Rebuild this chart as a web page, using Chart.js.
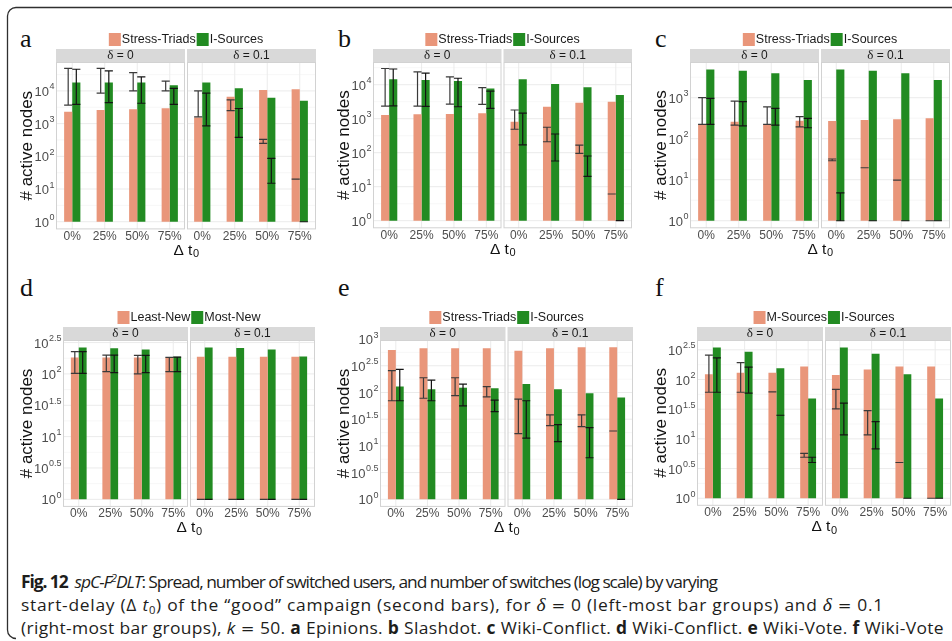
<!DOCTYPE html>
<html>
<head>
<meta charset="utf-8">
<title>spC-F2DLT: spread by start-delay</title>
<script src="https://cdn.jsdelivr.net/npm/chart.js@4.4.1/dist/chart.umd.min.js"></script>
<style>
  html, body { margin: 0; padding: 0; background: #fff; }
  body { position: relative; width: 952px; height: 641px; overflow: hidden; }
  canvas { position: absolute; }
  #frame { position: absolute; left: 0; top: 0; }
  .letter { position: absolute; font-family: 'Liberation Serif', 'Times New Roman', serif; font-size: 26px; line-height: 1; color: #111; }
  .cap { position: absolute; left: 21px; white-space: nowrap; font-family: 'Open Sans', 'Noto Sans', sans-serif;
         font-size: 17px; line-height: 23px; color: #1d1d1b; transform-origin: 0 50%; }
  .cap b { font-weight: 700; }
  .cap .m { font-family: 'Liberation Serif', serif; font-style: italic; font-size: 19px; }
  .cap .eq { display: inline-block; padding: 0 5px; font-family: 'DejaVu Sans', sans-serif; font-size: 16px; }
  .cap sup { font-size: 11px; vertical-align: 6px; line-height: 0; }
  .cap sub { font-size: 11px; vertical-align: -3px; line-height: 0; }
</style>
</head>
<body>
<svg id="frame" width="952" height="641">
  <path d="M952 7.5 H16 A8.5 8.5 0 0 0 7.5 16 V630 A8.5 8.5 0 0 0 16 638.5" fill="none" stroke="#2f2f2f" stroke-width="1.3"/>
</svg>

<div class="letter" style="left:20px;top:26px">a</div>
<div class="letter" style="left:338px;top:26px">b</div>
<div class="letter" style="left:655px;top:26px">c</div>
<div class="letter" style="left:20px;top:275px">d</div>
<div class="letter" style="left:338px;top:275px">e</div>
<div class="letter" style="left:655px;top:275px">f</div>

<div class="cap" style="top:570px"><b>Fig. 12</b>&nbsp; <i>spC-F<sup>2</sup>DLT</i>: Spread, number of switched users, and number of switches (log scale) by varying</div>
<div class="cap" style="top:593px">start-delay (Δ <i>t</i><sub>0</sub>) of the “good” campaign (second bars), for <span class="m">δ</span><span class="eq">=</span>0 (left-most bar groups) and <span class="m">δ</span><span class="eq">=</span>0.1</div>
<div class="cap" style="top:616px">(right-most bar groups), <i>k</i><span class="eq">=</span>50. <b>a</b> Epinions. <b>b</b> Slashdot. <b>c</b> Wiki-Conflict. <b>d</b> Wiki-Conflict. <b>e</b> Wiki-Vote. <b>f</b> Wiki-Vote</div>

<script>
// ---- categories ----
const delayLabels = ['0%', '25%', '50%', '75%', '0%', '25%', '50%', '75%'];
const deltaFacets = ['0', '0.1'];

// ---- a: Epinions (Stress-Triads vs I-Sources) ----
const epiStress   = [2300, 2600, 2750, 2950, 1550, 6600, 10600, 11200];
const epiISrc     = [18000, 18000, 18000, 15000, 18000, 12000, 6200, 5000];
const epiStressLo = [3700, 8500, 10000, 10000, 1600, 2500, 250, 20];
const epiStressHi = [49000, 49000, 36000, 20000, 10000, 5300, 330, 20];
const epiISrcLo   = [3900, 4400, 4200, 3900, 850, 380, 15, 1];
const epiISrcHi   = [46000, 41000, 27000, 12000, 8500, 2900, 87, 1];

// ---- b: Slashdot ----
const slaStress   = [1290, 1350, 1380, 1440, 820, 2250, 2950, 3150];
const slaISrc     = [14500, 13800, 12900, 7800, 14500, 10500, 8400, 5000];
const slaStressLo = [2350, 2350, 2700, 2650, 490, 210, 96, 6.1];
const slaStressHi = [30000, 24000, 17000, 8200, 1800, 560, 168, 6.1];
const slaISrcLo   = [2400, 2300, 2250, 2000, 170, 57, 20, 1];
const slaISrcHi   = [29000, 22000, 15500, 6500, 1450, 355, 80, 1];

// ---- c: Wiki-Conflict ----
const wcStress   = [229, 260, 225, 275, 270, 285, 300, 315];
const wcISrc     = [4900, 4550, 3950, 2700, 4900, 4550, 3950, 2700];
const wcStressLo = [225, 215, 225, 195, 29, 19.6, 9.8, 1];
const wcStressHi = [1000, 830, 600, 345, 32, 19.6, 9.8, 1];
const wcISrcLo   = [225, 205, 215, 185, 1, 1, 1, 1];
const wcISrcHi   = [960, 800, 550, 315, 4.8, 1, 1, 1];

// ---- d: Wiki-Conflict (Least-New vs Most-New) ----
const wcLeast   = [183, 183, 183, 183, 188, 188, 188, 188];
const wcMost    = [265, 256, 246, 188, 265, 260, 246, 190];
const wcLeastLo = [102, 109, 100, 109, 1, 1, 1, 1];
const wcLeastHi = [226, 200, 198, 183, 1, 1, 1, 1];
const wcMostLo  = [102, 105, 105, 109, 1, 1, 1, 1];
const wcMostHi  = [226, 200, 198, 185, 1, 1, 1, 1];

// ---- e: Wiki-Vote ----
const wvStress   = [627, 673, 673, 673, 605, 673, 705, 705];
const wvISrc     = [129, 115, 123, 120, 144, 115, 97, 81];
const wvStressLo = [70, 78, 87, 83, 17, 24, 23, 19];
const wvStressHi = [256, 189, 189, 129, 75, 38, 38, 19];
const wvISrcLo   = [70, 70, 56, 44, 14, 12, 6, 1];
const wvISrcHi   = [272, 171, 144, 72, 70, 25, 22, 1];

// ---- f: Wiki-Vote (M-Sources vs I-Sources) ----
const wvMSrc     = [122, 130, 130, 165, 119, 148, 165, 165];
const wvISrc2    = [345, 294, 155, 48, 345, 270, 122, 48];
const wvMSrcLo   = [61, 61, 62, 4.9, 32, 11.7, 4.0, 1];
const wvMSrcHi   = [258, 192, 62, 5.7, 68, 30, 4.0, 1];
const wvISrc2Lo  = [61, 59, 25, 4.0, 11.7, 6.8, 1, 1];
const wvISrc2Hi  = [232, 161, 25, 4.9, 40, 19.5, 1, 1];

// ---- y tick exponents (powers of ten) ----
const decadeTicks4 = [0, 1, 2, 3, 4];
const decadeTicks3 = [0, 1, 2, 3];
const halfTicks25  = [0, 0.5, 1, 1.5, 2, 2.5];
const halfTicks3   = [0, 0.5, 1, 1.5, 2, 2.5, 3];

// ---- styling ----
const SANS = "'Liberation Sans', Arial, Helvetica, sans-serif";
const SERIF = "'Liberation Serif', 'Times New Roman', serif";
const SALMON = '#E9967A';
const FOREST = '#228B22';
const XAXIS_H = 16;
const STRIP_H = 13;

function fmtExp(e) { return String(e); }

function drawPowerLabel(ctx, exp, xRight, y) {
  const base = '10', sup = fmtExp(exp);
  ctx.font = `13px ${SANS}`;
  const wb = ctx.measureText(base).width;
  ctx.font = `9px ${SANS}`;
  const ws = ctx.measureText(sup).width;
  const x0 = xRight - ws - wb - 0.5;
  ctx.fillStyle = '#4d4d4d';
  ctx.textAlign = 'left';
  ctx.textBaseline = 'middle';
  ctx.font = `13px ${SANS}`;
  ctx.fillText(base, x0, y + 1.5);
  ctx.font = `9px ${SANS}`;
  ctx.fillText(sup, x0 + wb + 0.5, y - 4);
  return wb + ws + 0.5;
}

function facetPlugin(p) {
  return {
    id: 'facetDecor',
    beforeDatasetsDraw(chart) {
      const { ctx, chartArea: ca, scales: { x, y } } = chart;
      const mid = (x.getPixelForValue(3) + x.getPixelForValue(4)) / 2;
      const facets = [[ca.left, mid - 1, 0], [mid + 1, ca.right, 4]];
      const lo = Math.log10(y.min), hi = Math.log10(y.max);
      ctx.save();
      for (const [x0, x1, first] of facets) {
        ctx.save();
        ctx.beginPath();
        ctx.rect(x0, ca.top, x1 - x0, ca.bottom - ca.top);
        ctx.clip();
        // minor horizontal grid
        ctx.strokeStyle = '#f4f4f4';
        ctx.lineWidth = 0.7;
        for (let k = Math.floor(lo / p.step) * p.step; k <= hi; k += p.step) {
          const py = y.getPixelForValue(Math.pow(10, k + p.step / 2));
          ctx.beginPath(); ctx.moveTo(x0, py); ctx.lineTo(x1, py); ctx.stroke();
        }
        // major horizontal grid
        ctx.strokeStyle = '#ebebeb';
        ctx.lineWidth = 1;
        for (const e of p.ticks) {
          const py = y.getPixelForValue(Math.pow(10, e));
          ctx.beginPath(); ctx.moveTo(x0, py); ctx.lineTo(x1, py); ctx.stroke();
        }
        // vertical grid at categories
        for (let i = first; i < first + 4; i++) {
          const px = x.getPixelForValue(i);
          ctx.beginPath(); ctx.moveTo(px, ca.top); ctx.lineTo(px, ca.bottom); ctx.stroke();
        }
        ctx.restore();
        // facet border
        ctx.strokeStyle = '#d2d2d2';
        ctx.lineWidth = 1;
        ctx.strokeRect(x0 + 0.5, ca.top + 0.5, x1 - x0 - 1, ca.bottom - ca.top - 1);
        // strip
        ctx.fillStyle = '#d9d9d9';
        ctx.fillRect(x0, ca.top - STRIP_H, x1 - x0, STRIP_H);
        const name = deltaFacets[first / 4];
        ctx.font = `13px ${SERIF}`;
        const wd = ctx.measureText('δ').width;
        ctx.font = `12px ${SANS}`;
        const rest = ' = ' + name;
        const wr = ctx.measureText(rest).width;
        const sx = (x0 + x1) / 2 - (wd + wr) / 2;
        const sy = ca.top - STRIP_H / 2 + 0.5;
        ctx.fillStyle = '#1a1a1a';
        ctx.textAlign = 'left';
        ctx.textBaseline = 'middle';
        ctx.font = `13px ${SERIF}`;
        ctx.fillText('δ', sx, sy);
        ctx.font = `12px ${SANS}`;
        ctx.fillText(rest, sx + wd, sy);
      }
      ctx.restore();
    },
    afterDatasetsDraw(chart) {
      const { ctx, scales: { y } } = chart;
      ctx.save();
      chart.data.datasets.forEach((ds, di) => {
        const meta = chart.getDatasetMeta(di);
        meta.data.forEach((bar, i) => {
          const yl = y.getPixelForValue(ds.errLo[i]);
          const yh = y.getPixelForValue(ds.errHi[i]);
          const half = bar.width / 2;
          ctx.strokeStyle = ds.errColor;
          ctx.lineWidth = 1.2;
          ctx.beginPath();
          ctx.moveTo(bar.x, yl); ctx.lineTo(bar.x, yh);
          ctx.moveTo(bar.x - half, yh); ctx.lineTo(bar.x + half, yh);
          ctx.moveTo(bar.x - half, yl); ctx.lineTo(bar.x + half, yl);
          ctx.stroke();
        });
      });
      ctx.restore();
    },
    afterDraw(chart) {
      const { ctx, chartArea: ca, scales: { y } } = chart;
      ctx.save();
      // y tick labels as powers of ten
      let maxW = 0;
      for (const e of p.ticks) {
        const w = drawPowerLabel(ctx, e, ca.left - 1.5, y.getPixelForValue(Math.pow(10, e)));
        maxW = Math.max(maxW, w);
      }
      // y axis title
      ctx.save();
      ctx.translate(ca.left - 1.5 - maxW - 7, (ca.top + ca.bottom) / 2);
      ctx.rotate(-Math.PI / 2);
      ctx.font = `17px ${SANS}`;
      ctx.fillStyle = '#111';
      ctx.textAlign = 'center';
      ctx.textBaseline = 'middle';
      ctx.fillText('# active nodes', 0, 0);
      ctx.restore();
      // x axis title: Δ t0
      const cx = (ca.left + ca.right) / 2, ty = ca.bottom + 21;
      ctx.font = `15.5px ${SANS}`;
      const wMain = ctx.measureText('Δ t').width;
      ctx.font = `11px ${SANS}`;
      const wSub = ctx.measureText('0').width;
      const tx = cx - (wMain + wSub) / 2;
      ctx.fillStyle = '#111';
      ctx.textAlign = 'left';
      ctx.textBaseline = 'middle';
      ctx.font = `15.5px ${SANS}`;
      ctx.fillText('Δ t', tx, ty);
      ctx.font = `11px ${SANS}`;
      ctx.fillText('0', tx + wMain + 0.5, ty + 4);
      // legend above strips
      ctx.font = `12.5px ${SANS}`;
      const names = chart.data.datasets.map(d => d.label);
      const colors = chart.data.datasets.map(d => d.backgroundColor);
      const sq = 12, gap = 1;
      const widths = names.map(n => ctx.measureText(n).width);
      const total = widths.reduce((a, w) => a + sq + gap + w + gap, 0) - gap;
      let lx = cx - total / 2;
      const ly = ca.top - STRIP_H - 9.5;
      names.forEach((n, i) => {
        ctx.fillStyle = colors[i];
        ctx.fillRect(lx, ly - 6.5, sq, 13);
        lx += sq + gap;
        ctx.fillStyle = '#1a1a1a';
        ctx.fillText(n, lx, ly);
        lx += widths[i] + gap;
      });
      ctx.restore();
    }
  };
}

function makePanel(p) {
  const [cx0, cx1] = p.col, [cy0, cy1] = p.row, [pl, pt, pr, pb] = p.plot;
  const cv = document.createElement('canvas');
  cv.width = cx1 - cx0;
  cv.height = cy1 - cy0;
  cv.style.left = cx0 + 'px';
  cv.style.top = cy0 + 'px';
  document.body.appendChild(cv);
  return new Chart(cv, {
    type: 'bar',
    data: {
      labels: delayLabels,
      datasets: [
        { label: p.names[0], data: p.first, errLo: p.firstLo, errHi: p.firstHi,
          backgroundColor: SALMON, errColor: '#3a3a3a', base: 1,
          categoryPercentage: 0.5, barPercentage: 1.0, borderWidth: 0 },
        { label: p.names[1], data: p.second, errLo: p.secondLo, errHi: p.secondHi,
          backgroundColor: FOREST, errColor: '#141414', base: 1,
          categoryPercentage: 0.5, barPercentage: 1.0, borderWidth: 0 }
      ]
    },
    options: {
      responsive: false,
      animation: false,
      devicePixelRatio: 1,
      layout: { padding: { left: pl - cx0, right: cx1 - pr, top: pt - cy0, bottom: cy1 - pb - XAXIS_H } },
      plugins: { legend: { display: false }, tooltip: { enabled: false } },
      scales: {
        x: {
          type: 'category', offset: true,
          grid: { display: false, drawTicks: false }, border: { display: false },
          ticks: { color: '#4d4d4d', font: { family: SANS, size: 12 }, padding: 0, maxRotation: 0, autoSkip: false },
          afterFit(s) { s.height = XAXIS_H; }
        },
        y: { type: 'logarithmic', display: false, bounds: 'data',
             min: Math.pow(10, p.lo), max: Math.pow(10, p.hi) }
      }
    },
    plugins: [facetPlugin(p)]
  });
}

const panels = [
  { names: ['Stress-Triads', 'I-Sources'], first: epiStress, second: epiISrc,
    firstLo: epiStressLo, firstHi: epiStressHi, secondLo: epiISrcLo, secondHi: epiISrcHi,
    ticks: decadeTicks4, step: 1, lo: -0.2345, hi: 4.884,
    col: [0, 320], row: [20, 268], plot: [56, 62, 316, 229.4] },
  { names: ['Stress-Triads', 'I-Sources'], first: slaStress, second: slaISrc,
    firstLo: slaStressLo, firstHi: slaStressHi, secondLo: slaISrcLo, secondHi: slaISrcHi,
    ticks: decadeTicks4, step: 1, lo: -0.224, hi: 4.668,
    col: [320, 636], row: [20, 268], plot: [373, 62, 632, 228.3] },
  { names: ['Stress-Triads', 'I-Sources'], first: wcStress, second: wcISrc,
    firstLo: wcStressLo, firstHi: wcStressHi, secondLo: wcISrcLo, secondHi: wcISrcHi,
    ticks: decadeTicks3, step: 1, lo: -0.1845, hi: 3.871,
    col: [636, 952], row: [20, 268], plot: [690, 62, 950, 228.3] },
  { names: ['Least-New', 'Most-New'], first: wcLeast, second: wcMost,
    firstLo: wcLeastLo, firstHi: wcLeastHi, secondLo: wcMostLo, secondHi: wcMostHi,
    ticks: halfTicks25, step: 0.5, lo: -0.121, hi: 2.541,
    col: [0, 320], row: [300, 548], plot: [63, 340, 315, 506.9] },
  { names: ['Stress-Triads', 'I-Sources'], first: wvStress, second: wvISrc,
    firstLo: wvStressLo, firstHi: wvStressHi, secondLo: wvISrcLo, secondHi: wvISrcHi,
    ticks: halfTicks3, step: 0.5, lo: -0.1425, hi: 2.983,
    col: [320, 636], row: [300, 548], plot: [380, 340, 633, 506.9] },
  { names: ['M-Sources', 'I-Sources'], first: wvMSrc, second: wvISrc2,
    firstLo: wvMSrcLo, firstHi: wvMSrcHi, secondLo: wvISrc2Lo, secondHi: wvISrc2Hi,
    ticks: halfTicks25, step: 0.5, lo: -0.127, hi: 2.665,
    col: [636, 952], row: [300, 548], plot: [697, 340, 951, 505.8] }
];

panels.forEach(makePanel);

// caption: one common horizontal condensing for all lines, with tracking
// adjusted per line so each line ends at its measure
const captionWidths = [696, 863, 923];
function fitCaption() {
  const lines = Array.from(document.querySelectorAll('.cap'));
  lines.forEach(el => { el.style.transform = 'none'; el.style.letterSpacing = '0px'; });
  const natural = lines.map(el => el.getBoundingClientRect().width);
  const scales = natural.map((w, i) => captionWidths[i] / w);
  const common = scales.reduce((a, s) => a + s, 0) / scales.length;
  lines.forEach((el, i) => {
    const n = el.textContent.length;
    const ls = (captionWidths[i] / common - natural[i]) / n;
    el.style.letterSpacing = ls.toFixed(3) + 'px';
    const w = el.getBoundingClientRect().width;
    el.style.transform = `scaleX(${captionWidths[i] / w})`;
  });
}
fitCaption();
if (document.fonts && document.fonts.ready) document.fonts.ready.then(fitCaption);
</script>
</body>
</html>
